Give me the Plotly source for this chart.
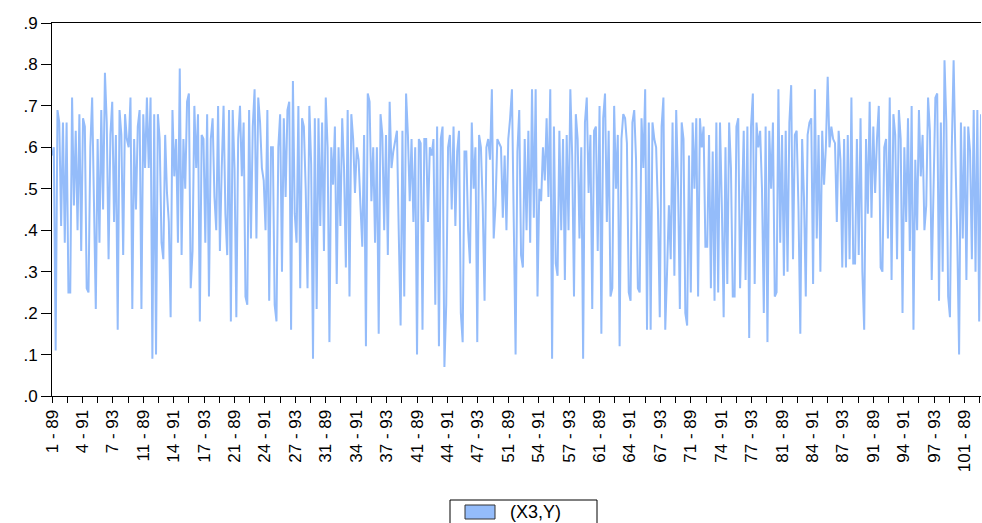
import math
import plotly.graph_objects as go

# Panel structure: cross-section ids and years
cross_sections = list(range(1, 103))
years = ["89", "90", "91", "92", "93"]
obs_labels = [f"{c} - {y}" for c in cross_sections for y in years]

x3y_values = [
    0.58, 0.60, 0.11, 0.69, 0.66, 0.41, 0.66, 0.37, 0.66, 0.25, 0.25, 0.72, 0.46, 0.64, 0.40, 0.68, 0.35, 0.67, 0.65, 0.26, 0.25,
    0.60, 0.72, 0.48, 0.21, 0.62, 0.37, 0.69, 0.45, 0.78, 0.66, 0.33, 0.63, 0.71, 0.42, 0.63, 0.16, 0.69, 0.63, 0.34, 0.68, 0.62,
    0.60, 0.72, 0.21, 0.62, 0.45, 0.65, 0.69, 0.21, 0.68, 0.55, 0.72, 0.55, 0.72, 0.09, 0.68, 0.10, 0.68, 0.62, 0.37, 0.33, 0.63,
    0.49, 0.42, 0.19, 0.69, 0.53, 0.62, 0.37, 0.79, 0.34, 0.62, 0.50, 0.71, 0.73, 0.26, 0.35, 0.70, 0.55, 0.68, 0.18, 0.63, 0.62,
    0.37, 0.68, 0.24, 0.62, 0.67, 0.48, 0.40, 0.70, 0.35, 0.55, 0.70, 0.44, 0.34, 0.69, 0.18, 0.69, 0.55, 0.19, 0.62, 0.70, 0.53,
    0.66, 0.24, 0.22, 0.69, 0.38, 0.65, 0.74, 0.38, 0.72, 0.66, 0.55, 0.52, 0.40, 0.69, 0.23, 0.60, 0.60, 0.22, 0.18, 0.60, 0.68,
    0.30, 0.67, 0.48, 0.69, 0.71, 0.16, 0.76, 0.44, 0.37, 0.70, 0.26, 0.67, 0.65, 0.50, 0.26, 0.70, 0.56, 0.09, 0.67, 0.21, 0.67,
    0.41, 0.66, 0.35, 0.72, 0.60, 0.13, 0.60, 0.51, 0.65, 0.27, 0.60, 0.41, 0.67, 0.55, 0.31, 0.69, 0.24, 0.68, 0.62, 0.49, 0.60,
    0.57, 0.46, 0.36, 0.63, 0.12, 0.73, 0.71, 0.47, 0.60, 0.37, 0.60, 0.15, 0.68, 0.63, 0.40, 0.63, 0.34, 0.71, 0.55, 0.59, 0.62,
    0.64, 0.39, 0.17, 0.64, 0.24, 0.73, 0.63, 0.47, 0.62, 0.42, 0.60, 0.10, 0.62, 0.61, 0.16, 0.62, 0.62, 0.42, 0.60, 0.58, 0.62,
    0.22, 0.65, 0.12, 0.62, 0.65, 0.07, 0.22, 0.60, 0.63, 0.45, 0.65, 0.41, 0.59, 0.64, 0.20, 0.13, 0.59, 0.59, 0.40, 0.32,
    0.66, 0.50, 0.60, 0.13, 0.63, 0.60, 0.46, 0.23, 0.60, 0.62, 0.57, 0.74, 0.38, 0.46, 0.62, 0.61, 0.60, 0.43, 0.58,
    0.40, 0.62, 0.67, 0.74, 0.42, 0.10, 0.59, 0.69, 0.34, 0.31, 0.62, 0.40, 0.64, 0.37, 0.74, 0.43, 0.74, 0.24, 0.50, 0.47, 0.60,
    0.52, 0.67, 0.48, 0.74, 0.09, 0.65, 0.32, 0.29, 0.64, 0.40, 0.62, 0.28, 0.63, 0.40, 0.74, 0.58, 0.24, 0.68, 0.62, 0.38, 0.60,
    0.09, 0.66, 0.72, 0.49, 0.63, 0.21, 0.64, 0.65, 0.35, 0.70, 0.15, 0.67, 0.73, 0.42, 0.64, 0.24, 0.26, 0.70, 0.50, 0.63, 0.12,
    0.62, 0.68, 0.67, 0.61, 0.25, 0.23, 0.66, 0.69, 0.57, 0.26, 0.25, 0.67, 0.55, 0.74, 0.16, 0.66, 0.16, 0.66, 0.62, 0.60, 0.45,
    0.19, 0.65, 0.72, 0.16, 0.30, 0.46, 0.33, 0.66, 0.29, 0.69, 0.51, 0.21, 0.66, 0.62, 0.20, 0.17, 0.58, 0.25, 0.66, 0.50,
    0.67, 0.24, 0.67, 0.60, 0.65, 0.36, 0.36, 0.63, 0.26, 0.59, 0.23, 0.66, 0.25, 0.66, 0.46, 0.19, 0.60, 0.27, 0.66, 0.55,
    0.24, 0.24, 0.65, 0.67, 0.26, 0.43, 0.64, 0.28, 0.65, 0.14, 0.65, 0.73, 0.27, 0.66, 0.60, 0.64, 0.50, 0.20, 0.65, 0.13,
    0.64, 0.50, 0.66, 0.24, 0.25, 0.74, 0.37, 0.63, 0.29, 0.64, 0.30, 0.66, 0.75, 0.33, 0.63, 0.64, 0.45, 0.15, 0.62, 0.48,
    0.24, 0.63, 0.66, 0.67, 0.27, 0.74, 0.38, 0.63, 0.30, 0.64, 0.51, 0.60, 0.77, 0.60, 0.65, 0.62, 0.61, 0.42, 0.64, 0.57, 0.31, 0.62, 0.31,
    0.63, 0.33, 0.72, 0.32, 0.32, 0.62, 0.34, 0.67, 0.30, 0.16, 0.62, 0.44, 0.71, 0.43, 0.65, 0.49, 0.62, 0.70, 0.31, 0.30, 0.60, 0.62, 0.38,
    0.72, 0.28, 0.68, 0.63, 0.33, 0.69, 0.62, 0.20, 0.60, 0.42, 0.67, 0.35, 0.70, 0.16, 0.57, 0.40, 0.69, 0.53, 0.63, 0.40, 0.46, 0.72, 0.64, 0.28, 0.53,
    0.72, 0.73, 0.23, 0.66, 0.30, 0.81, 0.66, 0.24, 0.19, 0.60, 0.81, 0.57, 0.38, 0.10, 0.66, 0.38, 0.65, 0.28, 0.65, 0.59, 0.33, 0.69, 0.30, 0.69, 0.18, 0.68,
]

y_tick_values = [0.0, 0.1, 0.2, 0.3, 0.4, 0.5, 0.6, 0.7, 0.8, 0.9]
y_tick_labels = [".0", ".1", ".2", ".3", ".4", ".5", ".6", ".7", ".8", ".9"]

series_name = "(X3,Y)"
line_color = "#94bcfa"

n = len(x3y_values)
idx = list(range(n))

# x ticks: every 25/3 observations, label on every other tick
tick_pos = []
tick_txt = []
k = 0
while k * 25 / 3 <= n - 1:
    p = k * 25 / 3
    tick_pos.append(p)
    tick_txt.append(obs_labels[min(n - 1, math.ceil(p - 1e-9))] if k % 2 == 0 else "")
    k += 1

fig = go.Figure()
fig.add_trace(go.Scatter(
    x=idx, y=x3y_values, mode="lines", name=series_name,
    line=dict(color=line_color, width=2),
    customdata=obs_labels,
    hovertemplate="%{customdata}: %{y}<extra></extra>",
    showlegend=False,
))

font_family = "Arial, Liberation Sans, sans-serif"
W, H = 982, 523
ML, MR, MT, MB = 52, 1, 23, 127
pw, ph = W - ML - MR, H - MT - MB


def px_x(x):
    return (x - ML) / pw


def px_y(y):
    return (H - MB - y) / ph


# legend box drawn at the bottom (EViews style)
fig.add_shape(type="rect", xref="paper", yref="paper",
              x0=px_x(450), x1=px_x(597), y0=px_y(524), y1=px_y(500),
              line=dict(color="black", width=1), fillcolor="white", layer="above")
fig.add_shape(type="rect", xref="paper", yref="paper",
              x0=px_x(465), x1=px_x(495), y0=px_y(519), y1=px_y(505),
              line=dict(color="#333333", width=1), fillcolor=line_color, layer="above")
fig.add_annotation(xref="paper", yref="paper", x=px_x(508), y=px_y(512),
                   xanchor="left", yanchor="middle", showarrow=False,
                   text=series_name, font=dict(size=18, color="black", family=font_family))

fig.update_layout(
    width=W, height=H,
    margin=dict(l=ML, r=MR, t=MT, b=MB),
    paper_bgcolor="white", plot_bgcolor="white",
    font=dict(family=font_family, size=17, color="black"),
    showlegend=False,
)
fig.update_xaxes(
    range=[0, n - 1],
    tickmode="array", tickvals=tick_pos, ticktext=tick_txt,
    tickangle=-90,
    ticks="outside", ticklen=6, tickcolor="black", tickwidth=1,
    showline=True, linecolor="black", linewidth=1, mirror=True,
    showgrid=False, zeroline=False,
    tickfont=dict(size=17, color="black"),
)
fig.update_yaxes(
    range=[0, 0.9],
    tickmode="array", tickvals=y_tick_values, ticktext=y_tick_labels,
    ticks="outside", ticklen=10, tickcolor="black", tickwidth=1,
    showline=True, linecolor="black", linewidth=1,
    showgrid=False, zeroline=False,
    tickfont=dict(size=17, color="black"),
)

fig.write_html("out.html")
